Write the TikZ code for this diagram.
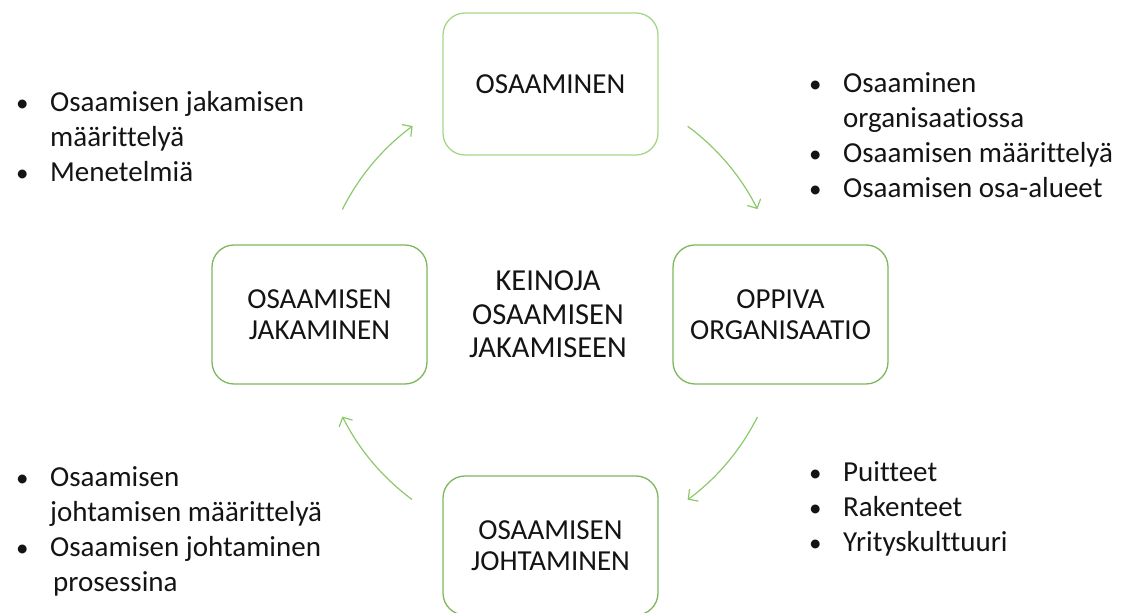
\documentclass[tikz,border=0pt]{standalone}
\usepackage{fontspec}
\setmainfont{Carlito}[Ligatures=NoCommon]
\usetikzlibrary{arrows.meta}
\definecolor{boxgreen}{HTML}{7DB85C}
\definecolor{boxlight}{HTML}{A6D788}
\definecolor{arrgreen}{HTML}{8CC96B}
\definecolor{txt}{HTML}{141414}
\tikzset{
  stepbox/.style={draw=boxgreen, line width=1.3pt, rounded corners=22pt, fill=white,
    minimum width=215pt, minimum height=139pt, align=center, text=txt,
    font=\fontsize{29}{31.5}\selectfont, inner sep=0pt},
  cyclearrow/.style={draw=arrgreen, line width=1.2pt, -{Straight Barb[length=7pt,width=15pt,line width=1.2pt]}},
  bulletlist/.style={anchor=base west, inner sep=0pt, text=txt, font=\fontsize{29}{35}\selectfont},
}
\newcommand{\bul}{{\fontsize{25}{25}\selectfont•}}
\newcommand{\blist}[1]{\begin{tabular}[t]{@{}p{34pt}@{}l@{}}#1\end{tabular}}
\begin{document}
\begin{tikzpicture}[x=1pt,y=1pt]
\useasboundingbox (0,0) rectangle (1136,613);
\clip (0,0) rectangle (1136,613);
\coordinate (c) at (550,300);
\node[stepbox, draw=boxlight, minimum height=142pt] (top) at (550.5,529) {OSAAMINEN};
\node[stepbox] (right) at (780.5,298.5) {OPPIVA\\ORGANISAATIO};
\node[stepbox] (left) at (319.5,298.5) {OSAAMISEN\\JAKAMINEN};
\node[stepbox] (bottom) at (550.5,67.5) {OSAAMISEN\\JOHTAMINEN};
\node[align=center, text=txt, inner sep=0pt, font=\fontsize{30.5}{33.5}\selectfont] (mid) at (548,298.5) {KEINOJA\\OSAAMISEN\\JAKAMISEEN};
\draw[cyclearrow] ([shift={(153.5:232pt)}]c) arc[start angle=153.5, end angle=126.3, radius=232pt];
\draw[cyclearrow] ([shift={(53.6:232pt)}]c) arc[start angle=53.6, end angle=26.6, radius=232pt];
\draw[cyclearrow] ([shift={(-26.6:232pt)}]c) arc[start angle=-26.6, end angle=-53.6, radius=232pt];
\draw[cyclearrow] ([shift={(-126.5:232pt)}]c) arc[start angle=-126.5, end angle=-153.5, radius=232pt];
\node[bulletlist] (tl) at (16,501) {\blist{\bul&Osaamisen jakamisen\\&määrittelyä\\\bul&Menetelmiä}};
\node[bulletlist] (tr) at (809,520) {\blist{\bul&Osaaminen\\&organisaatiossa\\\bul&Osaamisen määrittelyä\\\bul&Osaamisen osa-alueet}};
\node[bulletlist] (bl) at (16,126) {\blist{\bul&Osaamisen\\&johtamisen määrittelyä\\\bul&Osaamisen johtaminen\\&\hspace{3pt}prosessina}};
\node[bulletlist] (br) at (809,131) {\blist{\bul&Puitteet\\\bul&Rakenteet\\\bul&Yrityskulttuuri}};
\end{tikzpicture}
\end{document}
